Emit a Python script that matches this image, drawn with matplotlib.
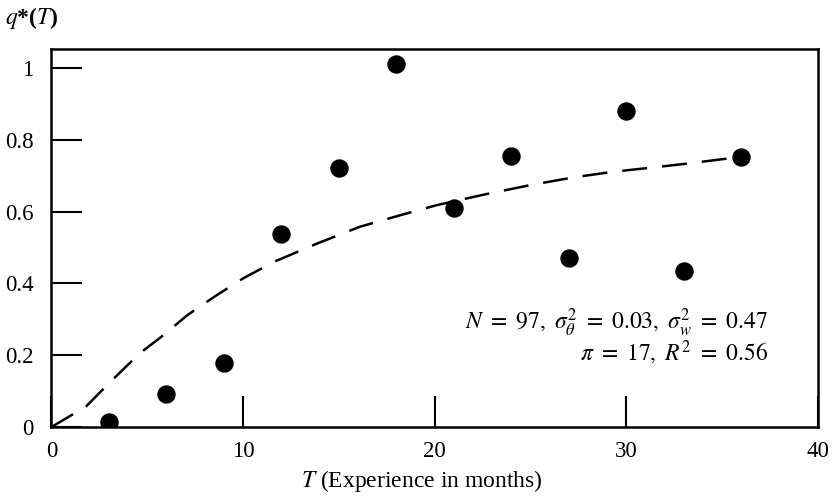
import numpy as np
import matplotlib
matplotlib.use("Agg")
import matplotlib.pyplot as plt

plt.rcParams['font.family'] = ['Liberation Serif', 'DejaVu Serif']
plt.rcParams['mathtext.fontset'] = 'stix'

# observed points
months = [3, 6, 9, 12, 15, 18, 21, 24, 27, 30, 33, 36]
q_obs = [0.015, 0.092, 0.177, 0.537, 0.721, 1.011, 0.609, 0.755, 0.47, 0.881, 0.435, 0.753]

# fitted curve (dashed)
curve_t = [0, 1.8, 3.0, 4.6, 5.7, 7.1, 8.5, 10, 11.6, 13.9, 16.1, 18.2, 20.1,
           22.7, 25.0, 27.2, 29.3, 31.4, 33.2, 35.0, 36]
curve_q = [0, 0.057, 0.122, 0.205, 0.25, 0.312, 0.363, 0.414, 0.46, 0.512, 0.558,
           0.59, 0.618, 0.649, 0.674, 0.695, 0.711, 0.723, 0.734, 0.746, 0.752]

xticks = [0, 10, 20, 30, 40]
yticks = [0, 0.2, 0.4, 0.6, 0.8, 1]
ytick_labels = ['0', '0.2', '0.4', '0.6', '0.8', '1']

fig = plt.figure(figsize=(8.36, 5), dpi=100)
ax = fig.add_axes([0.0616, 0.146, 0.917, 0.756])

ax.plot(curve_t, curve_q, color='black', lw=1.8, dashes=(10, 6))
ax.scatter(months, q_obs, s=150, color='black', zorder=3)

ax.set_xlim(0, 40)
ax.set_ylim(0, 1.053)
ax.set_xticks(xticks)
ax.set_yticks(yticks)
ax.set_yticklabels(ytick_labels)
ax.tick_params(direction='in', length=22, width=1.5, labelsize=16.5)
ax.tick_params(axis='y', pad=13)
ax.tick_params(axis='x', pad=10)
for s in ax.spines.values():
    s.set_linewidth(1.8)

ax.set_xlabel(r'$T$ (Experience in months)', fontsize=17)
ax.xaxis.set_label_coords(0.483, -0.108)
fig.text(0.006, 0.964, r'$q$*($T$)', fontsize=17, fontweight='bold',
         ha='left', va='center')

note = (r'$N\ =\ 97,\ \sigma^2_\theta\ =\ 0.03,\ \sigma^2_w\ =\ 0.47$' + '\n'
        + r'$\pi\ =\ 17,\ R^2\ =\ 0.56$')
ax.text(37.4, 0.252, note, fontsize=17, ha='right', va='center',
        multialignment='right', linespacing=1.0)

fig.savefig('out.png', dpi=100)
